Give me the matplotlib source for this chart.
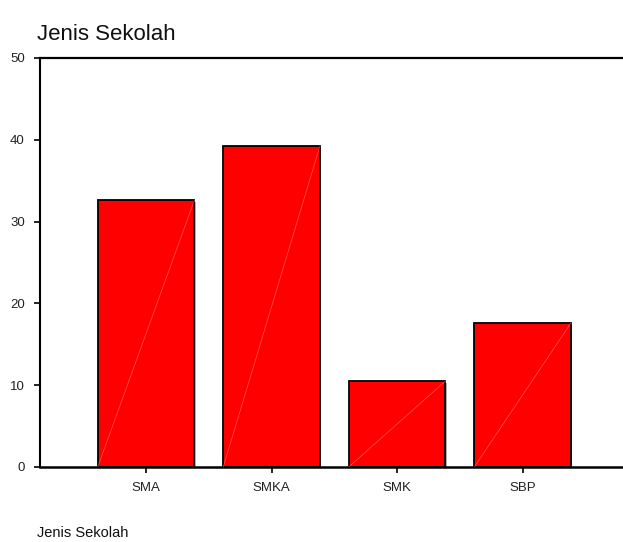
import matplotlib
matplotlib.use("Agg")
import matplotlib.pyplot as plt

categories = ["SMA", "SMKA", "SMK", "SBP"]
values = [32.6, 39.2, 10.5, 17.6]
yticks = [0, 10, 20, 30, 40, 50]

plt.rcParams['font.family'] = ['Liberation Sans', 'DejaVu Sans']

fig = plt.figure(figsize=(6.23, 5.42), dpi=100)
ax = fig.add_axes([0.0642, 0.1384, 0.9358, 0.7546])

x = list(range(len(categories)))
width = 0.77
# shadow
ax.bar([xi + 0.012 for xi in x], values, width=width, bottom=-0.25, color='#b0b0b0',
       edgecolor='none', zorder=1)
bars = ax.bar(x, values, width=width, color='#ff0000', edgecolor='black',
              linewidth=1.3, zorder=2)
# faint diagonal artifact lines
for b in bars:
    x0 = b.get_x(); x1 = x0 + b.get_width(); h = b.get_height()
    ax.plot([x0, x1], [0, h], color='#ff9090', lw=0.5, alpha=0.6, zorder=3)

ax.set_xlim(-0.845, 3.80)
ax.set_ylim(0, 50)
ax.set_yticks(yticks)
ax.set_xticks(x)
ax.set_xticklabels(categories, fontsize=9.5)
ax.set_yticklabels([str(t) for t in yticks], fontsize=9.5)
ax.tick_params(axis='both', direction='out', length=4, width=1.2, colors='black',
               labelcolor='#222222')
ax.tick_params(axis='x', pad=7)
ax.tick_params(axis='y', pad=7)

ax.spines['right'].set_visible(False)
ax.spines['top'].set_linewidth(1.6)
ax.spines['bottom'].set_linewidth(1.8)
ax.spines['left'].set_linewidth(1.5)

fig.text(37/623, 1 - 35/542, "Jenis Sekolah", fontsize=16, va='center', ha='left',
         color='#111111')
fig.text(37/623, 1 - 533/542, "Jenis Sekolah", fontsize=10.5, va='center', ha='left',
         color='#111111')

fig.savefig("out.png", dpi=100)
